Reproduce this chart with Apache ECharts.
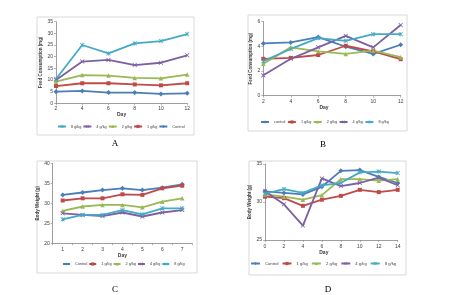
<!DOCTYPE html>
<html>
<head>
<meta charset="utf-8">
<script src="https://cdn.jsdelivr.net/npm/echarts@6/dist/echarts.min.js"></script>
<style>html,body{margin:0;padding:0;background:#fff}#c{width:450px;height:295px}</style>
</head>
<body>
<div id="c"></div>
<script>
// ---- Panel A: Feed consumption (mg) ----
const daysA = ['2','4','6','8','10','12'];
const a8 = [10.4, 25.0, 21.4, 25.7, 26.7, 29.7];
const a4 = [10.0, 17.9, 18.6, 16.4, 17.4, 20.6];
const a2 = [9.3, 12.1, 11.9, 10.9, 10.7, 12.3];
const a1 = [7.4, 8.6, 8.6, 8.1, 7.7, 8.6];
const aC = [5.0, 5.3, 4.6, 4.6, 4.0, 4.3];
// ---- Panel B: Feed consumption (mg) ----
const daysB = ['2','4','6','8','10','12'];
const bC = [4.24, 4.32, 4.75, 3.97, 3.39, 4.13];
const b1 = [2.99, 3.07, 3.30, 4.05, 3.60, 2.96];
const b2 = [2.59, 3.92, 3.60, 3.39, 3.65, 3.12];
const b4 = [1.65, 2.99, 3.92, 4.85, 3.92, 5.73];
const b8 = [2.80, 3.79, 4.67, 4.45, 4.99, 4.99];
// ---- Panel C: Body weight (g) ----
const daysC = ['1','2','3','4','5','6','7'];
const cC = [32.1, 32.7, 33.3, 33.75, 33.3, 33.9, 34.75];
const c1 = [30.7, 31.25, 31.25, 32.25, 32.1, 33.75, 34.4];
const c2 = [28.1, 29.2, 29.6, 29.6, 29.0, 30.4, 31.25];
const c4 = [27.5, 27.1, 26.8, 27.7, 26.7, 27.7, 28.3];
const c8 = [26.0, 27.1, 27.1, 28.3, 27.25, 28.75, 28.75];
// ---- Panel D: Body weight (g) ----
const daysD = ['0','2','4','6','8','10','12','14'];
const dC = [31.4, 31.2, 31.0, 32.0, 34.1, 34.2, 33.3, 32.5];
const d1 = [30.7, 30.5, 29.5, 30.3, 30.8, 31.6, 31.3, 31.6];
const d2 = [31.0, 30.7, 30.3, 30.9, 33.0, 33.0, 32.8, 33.0];
const d4 = [31.4, 29.7, 26.9, 33.1, 32.1, 32.5, 33.2, 32.2];
const d8 = [31.1, 31.7, 31.2, 32.2, 32.5, 33.9, 34.0, 33.8];

const legendA = ['8 g/kg','4 g/kg','2 g/kg','1 g/kg','Control'];
const legendB = ['control','1 g/kg','2 g/kg','4 g/kg','8 g/kg'];
const legendCD = ['Control','1 g/kg','2 g/kg','4 g/kg','8 g/kg'];

const COL = {C:'#4A7EBB', g1:'#BE4B48', g2:'#98B954', g4:'#7D60A0', g8:'#46AAC5'};
const XSYM = 'path://M0,1.2L1.2,0L5,3.8L8.8,0L10,1.2L6.2,5L10,8.8L8.8,10L5,6.2L1.2,10L0,8.8L3.8,5Z';
const STAR = 'path://M0,1.2L1.2,0L5,3.8L8.8,0L10,1.2L6.2,5L10,8.8L8.8,10L5,6.2L1.2,10L0,8.8L3.8,5Z M4.4,0L5.6,0L5.6,10L4.4,10Z';
const SYM = {C:['diamond',5], g1:['rect',4], g2:['triangle',4.5], g4:[XSYM,4.5], g8:[STAR,4.5]};

function mk(name, data, idx, key){
  return {
    name: name, type:'line', data: data, xAxisIndex: idx, yAxisIndex: idx,
    symbol: SYM[key][0], symbolSize: SYM[key][1], showSymbol:true,
    lineStyle:{color:COL[key], width:1.8},
    itemStyle:{color:COL[key]},
    animation:false
  };
}

const tickFont = {fontSize:5, color:'#404040', fontFamily:'Liberation Sans'};
const axisLineStyle = {lineStyle:{color:'#868686', width:0.8}};

function xAx(idx, data, margin, name, gap, pad, bgap){
  return {type:'category', gridIndex:idx, data:data, boundaryGap:bgap,
    axisLine:axisLineStyle, axisTick:{show:true, length:2, lineStyle:{color:'#868686',width:0.6}},
    axisLabel:Object.assign({margin:margin, interval:0}, tickFont),
    splitLine:{show:false},
    name:name, nameLocation:'middle', nameGap:gap,
    nameTextStyle:{fontSize:5, color:'#404040', fontFamily:'Liberation Sans', fontWeight:'bold', padding:pad}};
}
function yAx(idx, min, max, interval, name, gap){
  return {type:'value', gridIndex:idx, min:min, max:max, interval:interval,
    axisLine:Object.assign({show:true}, axisLineStyle),
    axisTick:{show:true, length:2, lineStyle:{color:'#868686',width:0.6}},
    axisLabel:Object.assign({margin:3}, tickFont),
    splitLine:{show:false},
    name:name, nameLocation:'middle', nameGap:gap, nameRotate:90,
    nameTextStyle:{fontSize:4.5, color:'#404040', fontFamily:'Liberation Sans', fontWeight:'bold'}};
}
function lg(data, left, top, fs, iw, gap){
  return {data:data, left:left, top:top, padding:0, itemWidth:iw, itemHeight:4, itemGap:gap,
    textStyle:{fontSize:fs, color:'#404040', fontFamily:'Liberation Sans'},
    selectedMode:false};
}

const frame = (x,y,w,h)=>({type:'rect', shape:{x:x,y:y,width:w,height:h}, style:{fill:null, stroke:'#cfcfcf', lineWidth:0.8}, z:-1});
const letter = (t,x,y)=>({type:'text', x:x, y:y, style:{text:t, font:'9px "Liberation Serif"', fill:'#000', textAlign:'center', textVerticalAlign:'middle'}});

const option = {
  backgroundColor:'#fff',
  animation:false,
  graphic:[
    frame(37,17,157,118), frame(248,15,159,116), frame(37,161,160,112), frame(249,161,157,114),
    letter('A',115,144), letter('B',323,145), letter('C',115,290), letter('D',328,290)
  ],
  grid:[
    {left:56, top:21.7, width:131.2, height:81.6},
    {left:263.3, top:21.7, width:137.4, height:74},
    {left:52.7, top:163.3, width:139.5, height:80},
    {left:265, top:164, width:132.7, height:76}
  ],
  xAxis:[
    xAx(0, daysA, 3, 'Day', 3, [0,0,0,0], false),
    xAx(1, daysB, 3.5, 'Day', 8.5, [0,16,0,0], false),
    xAx(2, daysC, 4, 'Day', 9, [0,0,0,0], true),
    xAx(3, daysD, 4, 'Day', 10, [0,15,0,0], false)
  ],
  yAxis:[
    yAx(0, 0, 35, 5, 'Feed Consumption (mg)', 11),
    yAx(1, 0, 6, 2, 'Feed Consumption (mg)', 9),
    yAx(2, 20, 40, 5, 'Body Weight (g)', 8.5),
    yAx(3, 25, 35, 5, 'Body Weight (g)', 8)
  ],
  legend:[
    lg(legendA, 57, 124.5, 3.8, 8, 1),
    lg(legendB, 260, 120, 3.8, 8, 1.5),
    lg(legendCD, 62, 262, 3.8, 7, 1),
    lg(legendCD, 250, 261.5, 4.2, 9, 3)
  ],
  series:[
    mk('8 g/kg', a8, 0, 'g8'), mk('4 g/kg', a4, 0, 'g4'), mk('2 g/kg', a2, 0, 'g2'), mk('1 g/kg', a1, 0, 'g1'), mk('Control', aC, 0, 'C'),
    mk('control', bC, 1, 'C'), mk('1 g/kg', b1, 1, 'g1'), mk('2 g/kg', b2, 1, 'g2'), mk('4 g/kg', b4, 1, 'g4'), mk('8 g/kg', b8, 1, 'g8'),
    mk('Control', cC, 2, 'C'), mk('1 g/kg', c1, 2, 'g1'), mk('2 g/kg', c2, 2, 'g2'), mk('4 g/kg', c4, 2, 'g4'), mk('8 g/kg', c8, 2, 'g8'),
    mk('Control', dC, 3, 'C'), mk('1 g/kg', d1, 3, 'g1'), mk('2 g/kg', d2, 3, 'g2'), mk('4 g/kg', d4, 3, 'g4'), mk('8 g/kg', d8, 3, 'g8')
  ]
};
const chart = echarts.init(document.getElementById('c'), null, {renderer:'canvas'});
chart.setOption(option);
</script>
</body>
</html>
